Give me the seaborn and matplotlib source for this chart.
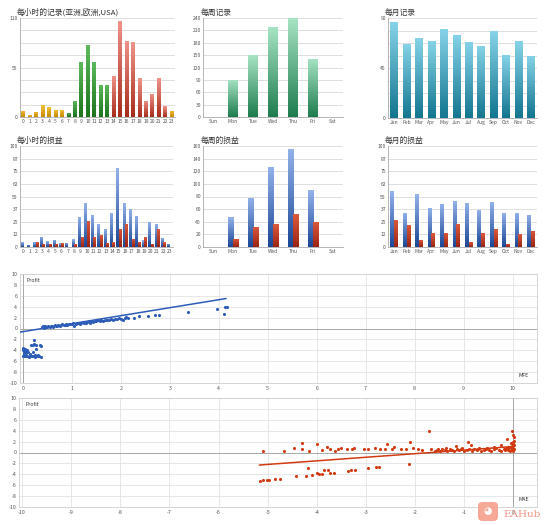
"""
plot.py - trade statistics dashboard (hour / week / month records and MFE / MAE scatter)
"""

import numpy as np
import pandas as pd
import matplotlib
matplotlib.use("Agg")
import matplotlib.pyplot as plt
from matplotlib.colors import LinearSegmentedColormap
from matplotlib.patches import FancyBboxPatch
import seaborn as sns

# ── Data ───────────────────────────────────────────────────────────────────────
HOURS = [str(h) for h in range(24)]
hour_trades = [7, 2, 6, 13, 11, 8, 8, 5, 18, 61, 80, 61, 36, 36, 46, 107, 85, 83, 43, 18, 26, 43, 12, 7]
hour_session = ["asia", "asia", "asia", "asia", "asia", "asia", "asia",
                "europe", "europe", "europe", "europe", "europe", "europe", "europe",
                "usa", "usa", "usa", "usa", "usa", "usa", "usa", "usa", "usa", "asia"]
hour_profit = [4.5, 2.3, 4.7, 10, 5.7, 7.3, 3.7, 4, 7.5, 30, 44, 32, 23, 18, 34, 78, 44, 38, 31, 6.7, 25, 23, 9, 3.3]
hour_loss = [0, 0, 4.7, 3, 3, 3, 3.5, 0, 2.5, 10, 26, 10, 12, 4, 4.5, 18, 23, 8, 5, 10, 3, 18, 4.5, 0]

DAYS = ["Sun", "Mon", "Tue", "Wed", "Thu", "Fri", "Sat"]
day_trades = [0, 90, 150, 217, 240, 141, 0]
day_profit = [0, 47, 78, 127, 156, 90, 0]
day_loss = [0, 13, 32, 36, 52, 40, 0]

MONTHS = ["Jan", "Feb", "Mar", "Apr", "May", "Jun", "Jul", "Aug", "Sep", "Oct", "Nov", "Dec"]
month_trades = [86, 67, 72, 69, 80, 75, 68, 65, 78, 57, 69, 56]
month_profit = [55, 34, 52, 39, 43, 46, 44, 37, 45, 34, 34, 32]
month_loss = [27, 22, 7, 13.5, 14, 22.5, 4.6, 13.5, 17.5, 3, 12.5, 16]

mfe_x = [0.38, 0.40, 0.42, 0.44, 0.46, 0.48, 0.50, 0.52, 0.55, 0.57, 0.60, 0.62, 0.65, 0.68, 0.70,
         0.72, 0.75, 0.78, 0.80, 0.83, 0.86, 0.88, 0.91, 0.94, 0.97, 1.00, 1.03, 1.05, 1.08, 1.10,
         1.13, 1.16, 1.19, 1.22, 1.25, 1.28, 1.31, 1.34, 1.37, 1.40, 1.44, 1.47, 1.50, 1.54, 1.57,
         1.60, 1.64, 1.68, 1.72, 1.76, 1.80, 1.84, 1.88, 1.92, 1.96, 2.00, 2.04, 2.08, 2.11, 2.14,
         2.27, 2.37, 2.56, 2.69, 2.78, 3.38, 3.97, 4.10, 4.13, 4.16,
         0.00, 0.03, 0.06, 0.09, 0.12, 0.15, 0.18, 0.21, 0.24, 0.27, 0.30, 0.33, 0.36,
         0.00, 0.02, 0.04, 0.06, 0.01, 0.03, 0.08, 0.05, 0.23, 0.23, 0.17, 0.20, 0.27, 0.34,
         0.37, 0.20, 0.27, 0.10, 0.25, 0.15, 0.30]
mfe_y = [0.2, 0.4, 0.1, 0.3, 0.4, 0.2, 0.3, 0.5, 0.3, 0.4, 0.5, 0.3, 0.6, 0.4, 0.5,
         0.7, 0.5, 0.6, 0.8, 0.6, 0.7, 0.9, 0.7, 0.8, 0.9, 0.8, 1.0, 0.5, 0.9, 1.0,
         1.1, 0.9, 1.0, 1.2, 1.1, 1.0, 1.2, 1.3, 1.1, 1.3, 1.2, 1.4, 1.3, 1.5, 1.3,
         1.5, 1.4, 1.5, 1.6, 1.5, 1.7, 1.6, 1.8, 1.7, 1.9, 1.8, 1.6, 2.0, 2.1, 1.9,
         2.0, 2.3, 2.3, 2.5, 2.5, 3.1, 3.6, 2.6, 3.9, 4.0,
         -5.1, -5.1, -5.0, -5.1, -5.2, -5.1, -5.0, -5.1, -5.2, -5.0, -5.1, -5.1, -5.2,
         -4.0, -4.3, -3.8, -4.5, -3.6, -4.6, -3.9, -4.2, -2.1, -2.8, -3.1, -3.0, -3.1, -3.1,
         -3.3, -4.3, -3.7, -4.3, -4.8, -4.6, -4.9]
mfe_fit_x = [-0.05, 4.15]
mfe_fit_y = [-0.65, 5.5]

mae_x = [-5.09, -4.67, -4.46, -4.30, -4.30, -4.16, -4.00, -3.90, -3.80, -3.74, -3.63, -3.56, -3.50,
         -3.39, -3.29, -3.24, -3.03, -2.96, -2.81, -2.72, -2.58, -2.62, -2.48, -2.42, -2.28, -2.18,
         -2.10, -2.05, -1.95, -1.85, -1.72, -1.68, -1.54, -1.37, -1.27, -1.17, -1.07, -0.93, -0.86,
         -0.73, -0.53, -0.39, -0.26, -0.14, -0.02, -0.01, 0.00, -0.01, -0.03,
         -1.60, -1.55, -1.50, -1.45, -1.40, -1.35, -1.30, -1.25, -1.20, -1.15, -1.10, -1.05, -1.00,
         -0.95, -0.90, -0.85, -0.80, -0.75, -0.70, -0.65, -0.60, -0.55, -0.50, -0.45, -0.40, -0.35,
         -0.30, -0.25, -0.20, -0.15, -0.12, -0.10, -0.08, -0.06, -0.04, -0.03, -0.02, -0.01, 0.00,
         0.00, 0.01, 0.01, 0.02, 0.02, -0.05, -0.10, -0.18,
         -5.16, -5.09, -5.02, -4.98, -4.85, -4.75, -4.43, -4.23, -4.17, -4.10, -4.00, -3.95, -3.90,
         -3.85, -3.77, -3.73, -3.65, -3.36, -3.31, -3.23, -2.96, -2.79, -2.74, -2.13]
mae_y = [0.3, 0.3, 0.9, 1.8, 0.6, 0.3, 1.6, 0.4, 1.0, 0.6, 0.3, 0.7, 0.9,
         0.6, 0.7, 0.9, 0.6, 0.6, 0.9, 0.6, 1.5, 0.6, 0.7, 1.0, 0.7, 0.6,
         1.9, 0.9, 0.6, 0.4, 3.9, 0.6, 0.7, 0.9, 0.4, 1.2, 0.7, 1.9, 1.3,
         0.7, 0.9, 1.0, 1.3, 2.5, 3.9, 3.2, 1.9, 1.3, 0.7,
         0.3, 0.5, 0.2, 0.6, 0.4, 0.3, 0.7, 0.5, 0.2, 0.6, 0.4, 0.8, 0.3,
         0.5, 0.7, 0.2, 0.6, 0.4, 0.8, 0.3, 0.5, 0.7, 0.4, 0.2, 0.6, 0.8,
         0.5, 0.3, 0.7, 0.9, 0.4, 0.6, 1.0, 0.3, 0.8, 1.2, 0.5, 1.6, 0.2,
         0.9, 2.2, 2.8, 0.6, 1.4, 1.8, 1.1, 0.5,
         -5.2, -5.1, -5.0, -5.0, -4.9, -4.8, -4.3, -4.3, -2.8, -4.1, -3.7, -3.9, -3.9,
         -3.2, -3.2, -3.7, -3.7, -3.4, -3.2, -3.2, -2.9, -2.7, -2.7, -2.1]
mae_fit_x = [-5.17, 0.0]
mae_fit_y = [-2.3, 1.1]

# ── Style ──────────────────────────────────────────────────────────────────────
TEXT_COL = "#333333"
TICK_COL = "#555555"
GRID_COL = "#d9d9d9"
BLUE = "#2c5cb8"
RED = "#d23a12"

CM_ORANGE = LinearSegmentedColormap.from_list("o", ["#c58a00", "#f2c040"])
CM_GREEN = LinearSegmentedColormap.from_list("g", ["#1d741d", "#5cba5c"])
CM_RED = LinearSegmentedColormap.from_list("r", ["#a82c1c", "#f0948a"])
CM_WEEK = LinearSegmentedColormap.from_list("w", ["#1f7d4f", "#a6e3c4"])
CM_MONTH = LinearSegmentedColormap.from_list("m", ["#137690", "#86d3e8"])
CM_BLUE = LinearSegmentedColormap.from_list("b", ["#1c4796", "#93b3ea"])
CM_LOSS = LinearSegmentedColormap.from_list("l", ["#9a2414", "#dc5a3c"])
SESSION_CMAP = {"asia": CM_ORANGE, "europe": CM_GREEN, "usa": CM_RED}

sns.set_theme(style="white")
plt.rcParams["font.family"] = ["Noto Sans CJK SC", "DejaVu Sans"]
plt.rcParams["axes.unicode_minus"] = False


def gradient_bars(ax, cmaps):
    # paint every bar with a vertical gradient, dark at the base
    for patch, cmap in zip(ax.patches, cmaps):
        x, y = patch.get_x(), patch.get_y()
        w, h = patch.get_width(), patch.get_height()
        if h <= 0:
            continue
        grad = np.linspace(0, 1, 64).reshape(-1, 1)
        im = ax.imshow(grad, extent=[x, x + w, y, y + h], origin="lower", aspect="auto",
                       cmap=cmap, zorder=patch.get_zorder() + 0.1)
        im.set_clip_path(patch)
        patch.set_facecolor("none")
        patch.set_edgecolor("none")


def style_bar_ax(ax, title, ymax, grid_ticks, labelled, n):
    ax.set_xlim(-0.5, n - 0.5)
    ax.set_ylim(0, ymax)
    ax.set_yticks(grid_ticks)
    ax.set_yticklabels([f"{t:g}" if t in labelled else "" for t in grid_ticks])
    ax.set_xlabel("")
    ax.set_ylabel("")
    ax.grid(axis="y", color=GRID_COL, linewidth=0.6, zorder=0)
    ax.set_axisbelow(True)
    for s in ("top", "right"):
        ax.spines[s].set_visible(False)
    ax.spines["left"].set_color("#aaaaaa")
    ax.spines["bottom"].set_color("#aaaaaa")
    ax.spines["left"].set_linewidth(0.6)
    ax.spines["bottom"].set_linewidth(0.6)
    ax.tick_params(axis="both", labelsize=3.6, colors=TICK_COL, length=0, pad=1.5)
    ax.set_title(title, loc="left", fontsize=5.6, color=TEXT_COL, pad=2.5, x=-0.02)


def pnl_frame(cats, profit, loss):
    return pd.DataFrame({
        "cat": cats + cats,
        "value": profit + loss,
        "kind": ["profit"] * len(cats) + ["loss"] * len(cats),
    })


fig = plt.figure(figsize=(5.49, 5.25), dpi=100)
W, H = 549, 525


def add_ax(left, top, right, bottom):
    return fig.add_axes([left / W, 1 - bottom / H, (right - left) / W, (bottom - top) / H])


# ── Row 1: trade counts ───────────────────────────────────────────────────────
ax = add_ax(20, 18, 175, 117)
sns.barplot(x=HOURS, y=hour_trades, color="#cccccc", width=0.6, ax=ax)
gradient_bars(ax, [SESSION_CMAP[s] for s in hour_session])
style_bar_ax(ax, "每小时的记录(亚洲,欧洲,USA)", 110, [i * 13.75 for i in range(9)], [0, 55, 110], 24)

ax = add_ax(203, 18, 343, 117)
sns.barplot(x=DAYS, y=day_trades, color="#cccccc", width=0.5, ax=ax)
gradient_bars(ax, [CM_WEEK] * 7)
style_bar_ax(ax, "每周记录", 240, list(range(0, 241, 30)), list(range(0, 241, 30)), 7)

ax = add_ax(388, 18, 537, 118)
sns.barplot(x=MONTHS, y=month_trades, color="#cccccc", width=0.6, ax=ax)
gradient_bars(ax, [CM_MONTH] * 12)
style_bar_ax(ax, "每月记录", 90, [i * 11.25 for i in range(9)], [0, 45, 90], 12)

# ── Row 2: profit / loss ──────────────────────────────────────────────────────
pnl_ticks = [0, 12.5, 25, 37.5, 50, 62.5, 75, 87.5, 100]
pnl_labels = ["0", "12", "25", "37", "50", "62", "75", "87", "100"]

ax = add_ax(20, 146, 173, 247)
sns.barplot(data=pnl_frame(HOURS, hour_profit, hour_loss), x="cat", y="value", hue="kind",
            palette=[BLUE, RED], width=0.8, legend=False, ax=ax)
gradient_bars(ax, [CM_BLUE] * 24 + [CM_LOSS] * 24)
style_bar_ax(ax, "每小时的损益", 100, pnl_ticks, pnl_ticks, 24)
ax.set_yticklabels(pnl_labels)

ax = add_ax(203, 146, 343, 247)
sns.barplot(data=pnl_frame(DAYS, day_profit, day_loss), x="cat", y="value", hue="kind",
            palette=[BLUE, RED], width=0.55, legend=False, ax=ax)
gradient_bars(ax, [CM_BLUE] * 7 + [CM_LOSS] * 7)
style_bar_ax(ax, "每周的损益", 160, list(range(0, 161, 20)), list(range(0, 161, 20)), 7)

ax = add_ax(388, 146, 537, 247)
sns.barplot(data=pnl_frame(MONTHS, month_profit, month_loss), x="cat", y="value", hue="kind",
            palette=[BLUE, RED], width=0.6, legend=False, ax=ax)
gradient_bars(ax, [CM_BLUE] * 12 + [CM_LOSS] * 12)
style_bar_ax(ax, "每月的损益", 100, pnl_ticks, pnl_ticks, 12)
ax.set_yticklabels(pnl_labels)


# ── Row 3/4: MFE and MAE scatter ──────────────────────────────────────────────
def style_scatter_ax(ax, xlim, xticks, xname):
    ax.set_xlim(*xlim)
    ax.set_ylim(-10, 10)
    ax.set_xticks(xticks)
    ax.set_yticks(range(-10, 11, 2))
    ax.set_xlabel("")
    ax.set_ylabel("")
    ax.grid(True, color="#e3e3e3", linewidth=0.6)
    ax.set_axisbelow(True)
    ax.axhline(0, color="#a8a8a8", linewidth=0.7, zorder=1)
    ax.axvline(0, color="#a8a8a8", linewidth=0.7, zorder=1)
    for s in ax.spines.values():
        s.set_color("#cfcfcf")
        s.set_linewidth(0.6)
    ax.tick_params(axis="both", labelsize=3.8, colors=TICK_COL, length=0, pad=2)
    ax.text(0.012, 0.96, "Profit", transform=ax.transAxes, fontsize=3.8, color=TEXT_COL,
            va="top", ha="left")
    ax.text(0.985, 0.05, xname, transform=ax.transAxes, fontsize=3.8, color=TEXT_COL,
            va="bottom", ha="right")


ax = add_ax(20, 274, 537, 383)
sns.scatterplot(x=mfe_x, y=mfe_y, color=BLUE, s=5, linewidth=0, ax=ax, zorder=3)
sns.lineplot(x=mfe_fit_x, y=mfe_fit_y, color=BLUE, linewidth=1.1, ax=ax, zorder=4)
style_scatter_ax(ax, (-0.06, 10.5), range(0, 11), "MFE")

ax = add_ax(19, 398, 537, 507)
sns.scatterplot(x=mae_x, y=mae_y, color=RED, s=5, linewidth=0, ax=ax, zorder=3)
sns.lineplot(x=mae_fit_x, y=mae_fit_y, color=RED, linewidth=1.1, ax=ax, zorder=4)
style_scatter_ax(ax, (-10.06, 0.48), range(-10, 1), "MAE")

# watermark (pig badge + name)
badge = FancyBboxPatch((478 / W, 1 - 521 / H), 20 / W, 19 / H, transform=fig.transFigure,
                       boxstyle="round,pad=0,rounding_size=0.008", facecolor="#f6a08c",
                       edgecolor="none", alpha=0.9)
fig.patches.append(badge)
fig.text(488 / W, 1 - 511 / H, "◕", fontsize=7, color="white", ha="center", va="center")
fig.text(503 / W, 1 - 519 / H, "EAHub", fontsize=7.5, color="#f08a78", family="DejaVu Serif",
         ha="left", va="bottom", alpha=0.9)

plt.savefig("out.png", dpi=100, facecolor="white")
print("[OK] Saved out.png")
